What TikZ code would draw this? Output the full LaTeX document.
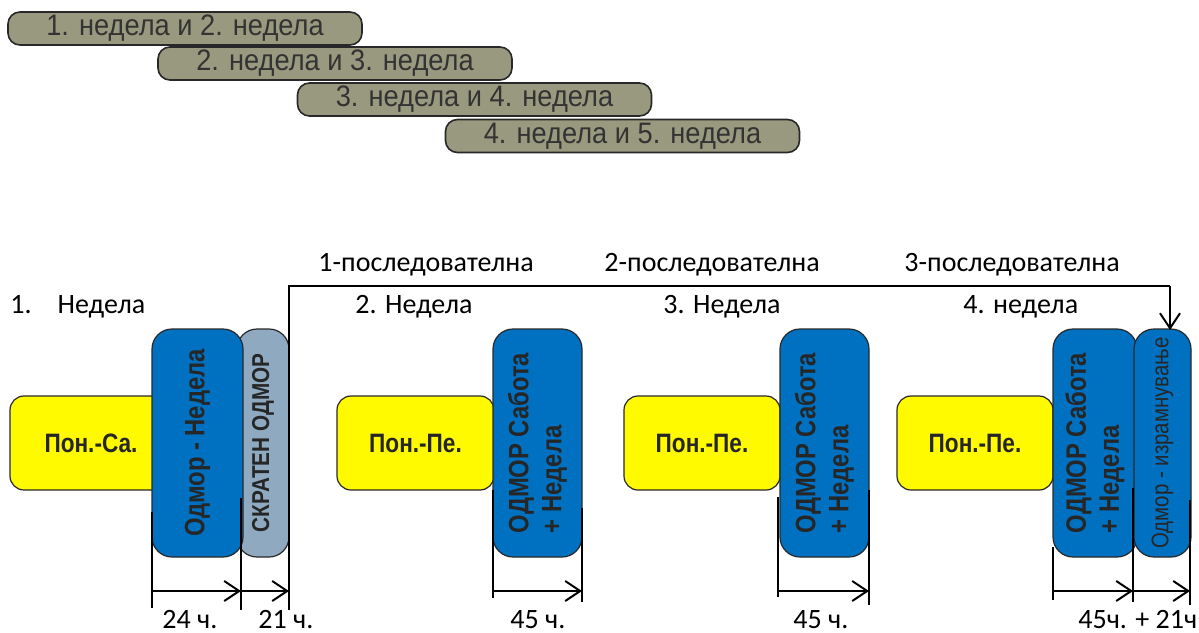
\documentclass[tikz,border=0pt]{standalone}
\usepackage{fontspec}
\setmainfont{Carlito}
\newfontfamily\pairfont{Liberation Sans}[FakeStretch=0.92]
\newfontfamily\narrowfont{Liberation Sans}[FakeStretch=0.85]
\usetikzlibrary{arrows.meta}

\definecolor{olivegray}{RGB}{153,153,128}
\definecolor{restblue}{RGB}{0,112,192}
\definecolor{shortgray}{RGB}{143,170,192}
\definecolor{boxline}{RGB}{40,40,40}
\definecolor{worky}{RGB}{255,250,0}

\tikzset{
  pairbox/.style = {draw = boxline, fill = olivegray, line width = 0.8pt, rounded corners = 6pt,
    minimum width = 177pt, minimum height = 16.5pt, inner sep = 0pt,
    font = \pairfont\fontsize{14.8}{14.8}\selectfont, text = black!80},
  workbox/.style = {draw = boxline, fill = worky, line width = 0.6pt, rounded corners = 7pt,
    minimum height = 47pt, inner sep = 0pt, font = \narrowfont\bfseries\fontsize{13.3}{14}\selectfont,
    text = black!85},
  restbox/.style = {draw = boxline, fill = restblue, line width = 0.6pt, rounded corners = 10pt,
    rotate = 90, minimum width = 114pt, inner sep = 0pt, align = left,
    font = \narrowfont\bfseries\fontsize{14}{16.5}\selectfont, text = black!85},
  label/.style = {anchor = base west, inner sep = 0pt, font = \fontsize{14}{14}\selectfont},
  dimline/.style = {line width = 1pt},
  dimarrow/.style = {line width = 1pt, -{Straight Barb[length = 7.5pt, width = 10pt]}}
}

\begin{document}
\begin{tikzpicture}[x = 0.5pt, y = -0.5pt]
\useasboundingbox (0,0) rectangle (1199,632);

% week pairs
\node[pairbox] (p12) at (185,28.5)  {1. недела и 2. недела};
\node[pairbox] (p23) at (335,63.5)  {2. недела и 3. недела};
\node[pairbox] (p34) at (474.5,99.5) {3. недела и 4. недела};
\node[pairbox] (p45) at (622.5,136)  {4. недела и 5. недела};

% titles
\node[label] (t1) at (10,313)  {1.\hspace{13pt}Недела};
\node[label] (t2) at (355,313) {2. Недела};
\node[label] (t3) at (663,313) {3. Недела};
\node[label] (t4) at (963,313) {4. недела};
\node[label] (s1) at (318,271) {1-последователна};
\node[label] (s2) at (604,271) {2-последователна};
\node[label] (s3) at (904,271) {3-последователна};

% 1. week
\node[workbox, minimum width = 81pt] (w1) at (91,443) {Пон.-Са.};
\node[restbox, fill = shortgray, minimum height = 26pt, font = \narrowfont\bfseries\fontsize{12.2}{12}\selectfont]
  (g1) at (263,443) {СКРАТЕН ОДМОР};
\node[restbox, minimum height = 45.5pt] (r1) at (197.5,443) {Одмор - Недела};

% 2. week
\node[workbox, minimum width = 78.5pt] (w2) at (415.5,443) {Пон.-Пе.};
\node[restbox, minimum height = 44.5pt] (r2) at (537.5,443) {ОДМОР Сабота\\+ Недела};

% 3. week
\node[workbox, minimum width = 78pt] (w3) at (702,443) {Пон.-Пе.};
\node[restbox, minimum height = 44.5pt] (r3) at (824.5,443) {ОДМОР Сабота\\+ Недела};

% 4. week
\node[workbox, minimum width = 78pt] (w4) at (975,443) {Пон.-Пе.};
\node[restbox, minimum height = 42pt] (r4) at (1095,443) {ОДМОР Сабота\\+ Недела};
\node[restbox, minimum height = 28.5pt, font = \narrowfont\fontsize{12}{12}\selectfont]
  (c4) at (1162.5,443) {Одмор - израмнување};

% measures
\coordinate (m1) at (152,591);
\coordinate (m2) at (241,591);
\coordinate (m3) at (289,591);
\coordinate (m4) at (493,591);
\coordinate (m5) at (582,591);
\coordinate (m6) at (778,591);
\coordinate (m7) at (869,591);
\coordinate (m8) at (1053,591);
\coordinate (m9) at (1133,591);
\coordinate (m10) at (1190,591);
\coordinate (bl) at (289,286);
\coordinate (br) at (1170,286);
\coordinate (c4top) at (1170,330);

\draw[dimline] (152,512) -- (152,608);
\draw[dimline] (241,498) -- (241,610);
\draw[dimline] (289,610) -- (bl) -- (br);
\draw[dimline] (493,490) -- (493,598);
\draw[dimline] (582,508) -- (582,602);
\draw[dimline] (778,497) -- (778,597);
\draw[dimline] (869,490) -- (869,605);
\draw[dimline] (1053,547) -- (1053,600);
\draw[dimline] (1133,488) -- (1133,602);
\draw[dimline] (1190,500) -- (1190,605);

\draw[dimarrow] (m1) -- (m2);
\draw[dimarrow] (m2) -- (m3);
\draw[dimarrow] (m4) -- (m5);
\draw[dimarrow] (m6) -- (m7);
\draw[dimarrow] (m8) -- (m9);
\draw[dimarrow] (m9) -- (m10);
\draw[dimarrow] (br) -- (c4top);

\node[label] (h1) at (162,628)  {24 ч.};
\node[label] (h2) at (258,628)  {21 ч.};
\node[label] (h3) at (510,628)  {45 ч.};
\node[label] (h4) at (793,628)  {45 ч.};
\node[label] (h5) at (1078,628) {45ч. + 21ч};
\end{tikzpicture}
\end{document}
